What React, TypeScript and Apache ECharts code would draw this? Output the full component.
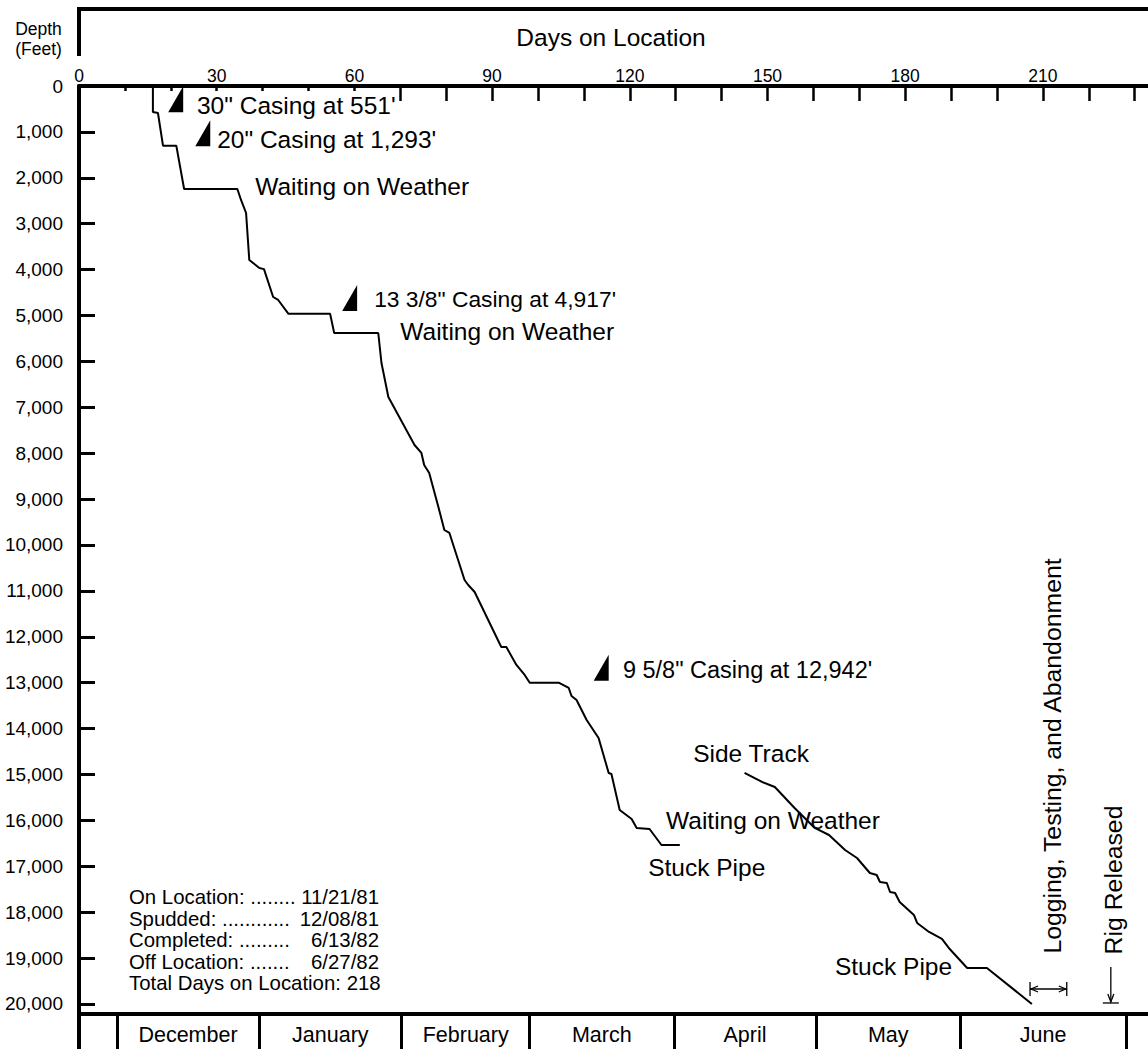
import React, { useEffect, useRef } from "react";
import * as echarts from "echarts";

const FONT = "'Liberation Sans', Arial, Helvetica, sans-serif";

// Depth vs days on location (main hole)
const mainWell: [number, number][] = [
  [16.1, 0], [16.1, 566], [17.2, 588], [18.3, 1300], [21.2, 1300], [22.9, 2244],
  [34.5, 2244], [35.3, 2483], [36.4, 2767], [37.1, 3791], [39.3, 3965], [40.3, 3990],
  [42.3, 4597], [43.4, 4662], [45.6, 4960], [54.7, 4960], [55.6, 5381], [65.2, 5381],
  [65.9, 6035], [67.4, 6775], [73.1, 7821], [74.6, 7995], [75.2, 8257], [76.3, 8431],
  [78.3, 9172], [79.6, 9673], [80.7, 9738], [84.0, 10762], [84.8, 10871], [86.2, 11024],
  [92.0, 12222], [93.1, 12222], [95.3, 12614], [97.1, 12832], [98.2, 13000], [104.5, 13000],
  [106.7, 13115], [107.3, 13289], [108.4, 13376], [110.6, 13812], [113.2, 14204], [115.4, 14967],
  [116.0, 14989], [117.8, 15773], [120.4, 15969], [121.5, 16165], [124.3, 16187], [126.9, 16536],
  [130.9, 16536],
];

// Side track
const sideTrack: [number, number][] = [
  [145.0, 14967], [148.8, 15163], [151.6, 15272], [155.9, 15729], [160.3, 16165], [163.4, 16318],
  [166.9, 16645], [169.5, 16819], [172.3, 17146], [173.8, 17189], [174.5, 17342], [176.0, 17364],
  [176.7, 17560], [177.8, 17581], [178.8, 17777], [181.9, 18060], [182.6, 18235], [185.2, 18431],
  [188.0, 18583], [189.5, 18779], [193.5, 19215], [197.8, 19215], [207.6, 20000],
];

// Casing shoe markers (day, depth)
const casingPoints: [number, number][] = [
  [22.7, 570], [28.6, 1310], [60.6, 4900], [115.4, 12960],
];

// Text annotations (left edge day, depth at text middle)
const annotationTexts = [
  "30\" Casing at 551'",
  "20\" Casing at 1,293'",
  "Waiting on Weather",
  "13 3/8\" Casing at 4,917'",
  "Waiting on Weather",
  "9 5/8\" Casing at 12,942'",
  "Side Track",
  "Waiting on Weather",
  "Stuck Pipe",
  "Stuck Pipe",
];
const annotationDays = [25.7, 30.1, 38.4, 64.3, 70.0, 118.5, 133.8, 127.9, 124.0, 164.7];
const annotationDepths = [414, 1155, 2200, 4630, 5340, 12723, 14532, 16013, 17037, 19194];

const verticalTexts = ["Logging, Testing, and Abandonment", "Rig Released"];
const verticalDays = [212.0, 225.4];
const verticalDepths = [14597, 17298];

const loggingSpan = [207.2, 215.2];
const loggingDepth = 19673;
const rigReleasedDay = 224.8;
const rigReleasedDepths = [19193, 19978];

const dayLabelValues = [0, 30, 60, 90, 120, 150, 180, 210];
const dayTicksShort = [10, 20, 30, 40, 50, 60];
const dayTicksLong = [70, 80, 90, 100, 110, 120, 130, 140, 150, 160, 170, 180, 190, 200, 210, 220, 230];
const depthTicks = [0, 1000, 2000, 3000, 4000, 5000, 6000, 7000, 8000, 9000, 10000,
  11000, 12000, 13000, 14000, 15000, 16000, 17000, 18000, 19000, 20000];

const monthBounds = [8.3, 39.2, 70.3, 98.2, 129.6, 160.6, 192.0, 228.1];
const monthNames = ["December", "January", "February", "March", "April", "May", "June"];

const summaryLabels = [
  "On Location: ........",
  "Spudded: ............",
  "Completed: .........",
  "Off Location: .......",
];
const summaryDates = ["11/21/81", "12/08/81", "6/13/82", "6/27/82"];
const summaryTotal = "Total Days on Location: 218";

const DAY_MAX = 232.9;
const DEPTH_MAX = 20218;

const ANN_SIZE = 24.5;
const annSizeFor = (t: string) => (t.startsWith("13 3/8") ? 22.8 : t.startsWith("9 5/8") ? 23.5 : ANN_SIZE);

export default function App() {
  const ref = useRef<HTMLDivElement>(null);

  useEffect(() => {
    if (!ref.current) return;
    const chart = echarts.init(ref.current, null, { renderer: "svg" });

    const monthCenters = monthNames.map((_, i) => (monthBounds[i] + monthBounds[i + 1]) / 2);

    const baseX = {
      type: "value" as const,
      min: 0,
      max: DAY_MAX,
      splitLine: { show: false },
    };

    chart.setOption({
      animation: false,
      backgroundColor: "#fff",
      grid: { left: 79, top: 86, right: 0, bottom: 35, containLabel: false },
      xAxis: [
        {
          ...baseX,
          position: "top",
          axisLine: { show: true, lineStyle: { color: "#000", width: 4 } },
          axisTick: {
            show: true, inside: true, length: 5, customValues: dayTicksShort,
            lineStyle: { color: "#000", width: 2.5 },
          },
          axisLabel: {
            show: true, customValues: dayLabelValues, margin: 1,
            color: "#000", fontSize: 17.5, fontFamily: FONT,
          },
        },
        {
          ...baseX,
          position: "top",
          axisLine: { show: false },
          axisTick: {
            show: true, inside: true, length: 15, customValues: dayTicksLong,
            lineStyle: { color: "#000", width: 2.5 },
          },
          axisLabel: { show: false },
        },
        {
          ...baseX,
          position: "bottom",
          axisLine: { show: true, lineStyle: { color: "#000", width: 4 } },
          axisTick: {
            show: true, inside: false, length: 36, customValues: monthBounds,
            lineStyle: { color: "#000", width: 3 },
          },
          axisLabel: {
            show: true, customValues: monthCenters, margin: 10,
            color: "#000", fontSize: 21.5, fontFamily: FONT,
            formatter: (v: number) => {
              let best = 0;
              monthCenters.forEach((c, i) => {
                if (Math.abs(c - v) < Math.abs(monthCenters[best] - v)) best = i;
              });
              return monthNames[best];
            },
          },
        },
      ],
      yAxis: [
        {
          type: "value",
          inverse: true,
          min: 0,
          max: DEPTH_MAX,
          splitLine: { show: false },
          axisLine: { show: true, lineStyle: { color: "#000", width: 4 } },
          axisTick: {
            show: true, inside: true, length: 16, customValues: depthTicks,
            lineStyle: { color: "#000", width: 3 },
          },
          axisLabel: {
            show: true, customValues: depthTicks, margin: 16,
            color: "#000", fontSize: 19, fontFamily: FONT,
            formatter: (v: number) => v.toLocaleString("en-US"),
          },
        },
      ],
      series: [
        {
          type: "line",
          data: mainWell,
          xAxisIndex: 0,
          yAxisIndex: 0,
          symbol: "none",
          lineStyle: { color: "#000", width: 2 },
          silent: true,
        },
        {
          type: "line",
          data: sideTrack,
          xAxisIndex: 0,
          yAxisIndex: 0,
          symbol: "none",
          lineStyle: { color: "#000", width: 2 },
          silent: true,
        },
        {
          type: "scatter",
          data: casingPoints,
          xAxisIndex: 0,
          yAxisIndex: 0,
          symbol: "path://M15,0 L15,26 L0,26 Z",
          symbolSize: [15, 26],
          symbolKeepAspect: false,
          symbolOffset: [-7.5, -13],
          itemStyle: { color: "#000", opacity: 1 },
          silent: true,
        },
      ],
    });

    const px = (d: number, v: number): number[] =>
      chart.convertToPixel({ seriesIndex: 0 }, [d, v]) as number[];

    const graphics: any[] = [];
    // header box
    graphics.push(
      { type: "line", shape: { x1: 79, y1: 7, x2: 79, y2: 56 }, style: { stroke: "#000", lineWidth: 4 } },
      { type: "line", shape: { x1: 77, y1: 9, x2: 1148, y2: 9 }, style: { stroke: "#000", lineWidth: 4 } },
      { type: "line", shape: { x1: 79, y1: 1012, x2: 79, y2: 1049 }, style: { stroke: "#000", lineWidth: 4 } },
      {
        type: "text", x: 38.5, y: 29,
        style: { text: "Depth", fontSize: 17.5, fontFamily: FONT, fill: "#000", align: "center", verticalAlign: "middle" },
      },
      {
        type: "text", x: 38.5, y: 49,
        style: { text: "(Feet)", fontSize: 17.5, fontFamily: FONT, fill: "#000", align: "center", verticalAlign: "middle" },
      },
      {
        type: "text", x: 611, y: 37,
        style: { text: "Days on Location", fontSize: 24.5, fontFamily: FONT, fill: "#000", align: "center", verticalAlign: "middle" },
      }
    );

    // annotations
    annotationTexts.forEach((t, i) => {
      const [x, y] = px(annotationDays[i], annotationDepths[i]);
      graphics.push({
        type: "text", x, y,
        style: { text: t, fontSize: annSizeFor(t), fontFamily: FONT, fill: "#000", align: "left", verticalAlign: "middle" },
      });
    });

    verticalTexts.forEach((t, i) => {
      const [x, y] = px(verticalDays[i], verticalDepths[i]);
      graphics.push({
        type: "text", x, y, rotation: Math.PI / 2,
        style: { text: t, fontSize: 24.8, fontFamily: FONT, fill: "#000", align: "center", verticalAlign: "middle" },
      });
    });

    // logging span double arrow
    {
      const [x1, y] = px(loggingSpan[0], loggingDepth);
      const [x2] = px(loggingSpan[1], loggingDepth);
      const st = { stroke: "#000", lineWidth: 1.3, fill: "none" };
      graphics.push(
        { type: "line", shape: { x1, y1: y, x2, y2: y }, style: st },
        { type: "line", shape: { x1, y1: y - 7, x2: x1, y2: y + 7 }, style: st },
        { type: "line", shape: { x1: x2, y1: y - 7, x2, y2: y + 7 }, style: st },
        { type: "polyline", shape: { points: [[x1 + 8, y - 3], [x1 + 1, y], [x1 + 8, y + 3]] }, style: st },
        { type: "polyline", shape: { points: [[x2 - 8, y - 3], [x2 - 1, y], [x2 - 8, y + 3]] }, style: st }
      );
    }
    // rig released arrow
    {
      const [x, yTop] = px(rigReleasedDay, rigReleasedDepths[0]);
      const [, yBar] = px(rigReleasedDay, rigReleasedDepths[1]);
      const st = { stroke: "#000", lineWidth: 1.3, fill: "none" };
      graphics.push(
        { type: "line", shape: { x1: x, y1: yTop, x2: x, y2: yBar - 1 }, style: st },
        { type: "polyline", shape: { points: [[x - 3, yBar - 9], [x, yBar - 1], [x + 3, yBar - 9]] }, style: st },
        { type: "line", shape: { x1: x - 8, y1: yBar, x2: x + 8, y2: yBar }, style: st }
      );
    }

    // summary block
    const sumY = [897, 918.5, 940, 961.5];
    summaryLabels.forEach((t, i) => {
      graphics.push({
        type: "text", x: 129, y: sumY[i],
        style: { text: t, fontSize: 20.4, fontFamily: FONT, fill: "#000", align: "left", verticalAlign: "middle" },
      });
      graphics.push({
        type: "text", x: 379, y: sumY[i],
        style: { text: summaryDates[i], fontSize: 20.4, fontFamily: FONT, fill: "#000", align: "right", verticalAlign: "middle" },
      });
    });
    graphics.push({
      type: "text", x: 129, y: 983,
      style: { text: summaryTotal, fontSize: 20.4, fontFamily: FONT, fill: "#000", align: "left", verticalAlign: "middle" },
    });

    chart.setOption({ graphic: graphics });

    return () => chart.dispose();
  }, []);

  return (
    <div
      ref={ref}
      style={{ position: "absolute", left: 0, top: 0, width: 1148, height: 1049, background: "#fff" }}
    />
  );
}
